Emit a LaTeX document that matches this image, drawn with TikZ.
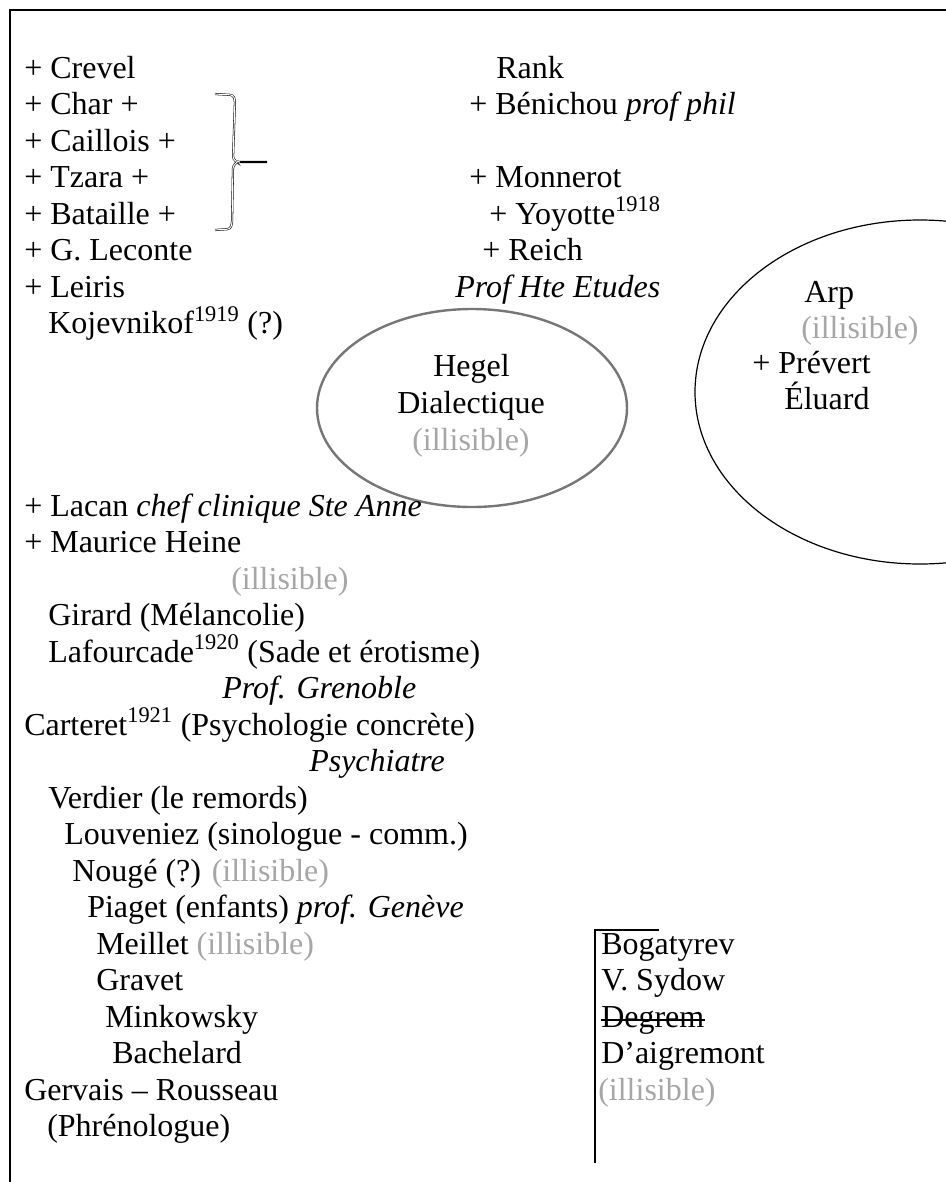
\documentclass[tikz,border=0pt]{standalone}
\usepackage{fontspec}
\setmainfont{Liberation Serif}
\definecolor{illgray}{RGB}{166,166,166}
\definecolor{ringgray}{RGB}{118,118,118}

\begin{document}
\begin{tikzpicture}[x=0.75pt,y=-0.75pt,
  every node/.style={anchor=base west, inner sep=0pt, font=\fontsize{24}{28}\selectfont},
  ill/.style={text=illgray}]
\useasboundingbox (0,0) rectangle (946,1182);
\clip (0,0) rectangle (946,1182);
\draw[line width=1.5pt] (10,1182) -- (10,10) -- (946,10);

\node(crevel) at (24,78){+ Crevel};
\node(char) at (24,114.5){+ Char +};
\node(caillois) at (24,151){+ Caillois +};
\node(tzara) at (24,187.5){+ Tzara +};
\node(bataille) at (24,224){+ Bataille +};
\node(leconte) at (24,260.5){+ G. Leconte};
\node(leiris) at (24,297){+ Leiris};
\node(kojev) at (48,333.5){Kojevnikof\textsuperscript{1919} (?)};
\draw[line width=0.4pt, double=white, double distance=0.8pt, rounded corners=2pt]
  (215,94) -- (233,95) -- (235,100) -- (233,159) -- (237,162) -- (267,162);
\draw[line width=0.4pt, double=white, double distance=0.8pt, rounded corners=2pt]
  (237,162) -- (233,166) -- (232,224) -- (230,229) -- (215,230);
\draw[line width=1.2pt] (240,162) -- (267,162);

\node(rank) at (496,78){Rank};
\node(benichou) at (469,114.5){+ Bénichou \textit{prof phil}};
\node(monnerot) at (469,187.5){+ Monnerot};
\node(yoyotte) at (489,224){+ Yoyotte\textsuperscript{1918}};
\node(reich) at (482,260.5){+ Reich};
\node(hteetudes) at (455,297){\textit{Prof Hte Etudes}};

\draw[ringgray, line width=1.8pt] (472,408) ellipse [x radius=116.25pt, y radius=74.25pt];
\node(hegel) at (433,376){Hegel};
\node(dialect) at (397,413){Dialectique};
\node[ill](hegelill) at (412,450){(illisible)};

\draw[line width=0.9pt] (920,392) ellipse [x radius=168.75pt, y radius=129pt];
\node(arp) at (804,302){Arp};
\node[ill](arpill) at (801,338){(illisible)};
\node(prevert) at (752,373){+ Prévert};
\node(eluard) at (784,409){Éluard};

\node(lacan) at (24,516){+ Lacan \textit{chef clinique Ste Anne}};
\node(heine) at (24,552.5){+ Maurice Heine};
\node[ill](heineill) at (231,589){(illisible)};
\node(girard) at (48,625.5){Girard (Mélancolie)};
\node(lafourcade) at (48,662){Lafourcade\textsuperscript{1920} (Sade et érotisme)};
\node(grenoble) at (222,698.5){\textit{Prof. Grenoble}};
\node(carteret) at (24,735){Carteret\textsuperscript{1921} (Psychologie concrète)};
\node(psychiatre) at (309,771.5){\textit{Psychiatre}};
\node(verdier) at (48,808){Verdier (le remords)};
\node(louveniez) at (64,844.5){Louveniez (sinologue - comm.)};
\node(nouge) at (72,881){Nougé (?) \textcolor{illgray}{(illisible)}};
\node(piaget) at (87,917.5){Piaget (enfants) \textit{prof. Genève}};
\node(meillet) at (96,954){Meillet \textcolor{illgray}{(illisible)}};
\node(gravet) at (96,990.5){Gravet};
\node(minkowsky) at (105,1027){Minkowsky};
\node(bachelard) at (112,1063.5){Bachelard};
\node(gervais) at (24,1100){Gervais -- Rousseau};
\node(phreno) at (47,1136.5){(Phrénologue)};

\draw[line width=1pt] (659,930) -- (595,930) -- (595,1163);
\node(bogatyrev) at (601,954){Bogatyrev};
\node(sydow) at (601,990.5){V. Sydow};
\node(degrem) at (601,1027){Degrem};
\draw[line width=0.9pt] (degrem.west) -- (degrem.east);
\node(aigremont) at (601,1063.5){D’aigremont};
\node[ill](bottomill) at (598,1100){(illisible)};
\end{tikzpicture}
\end{document}
